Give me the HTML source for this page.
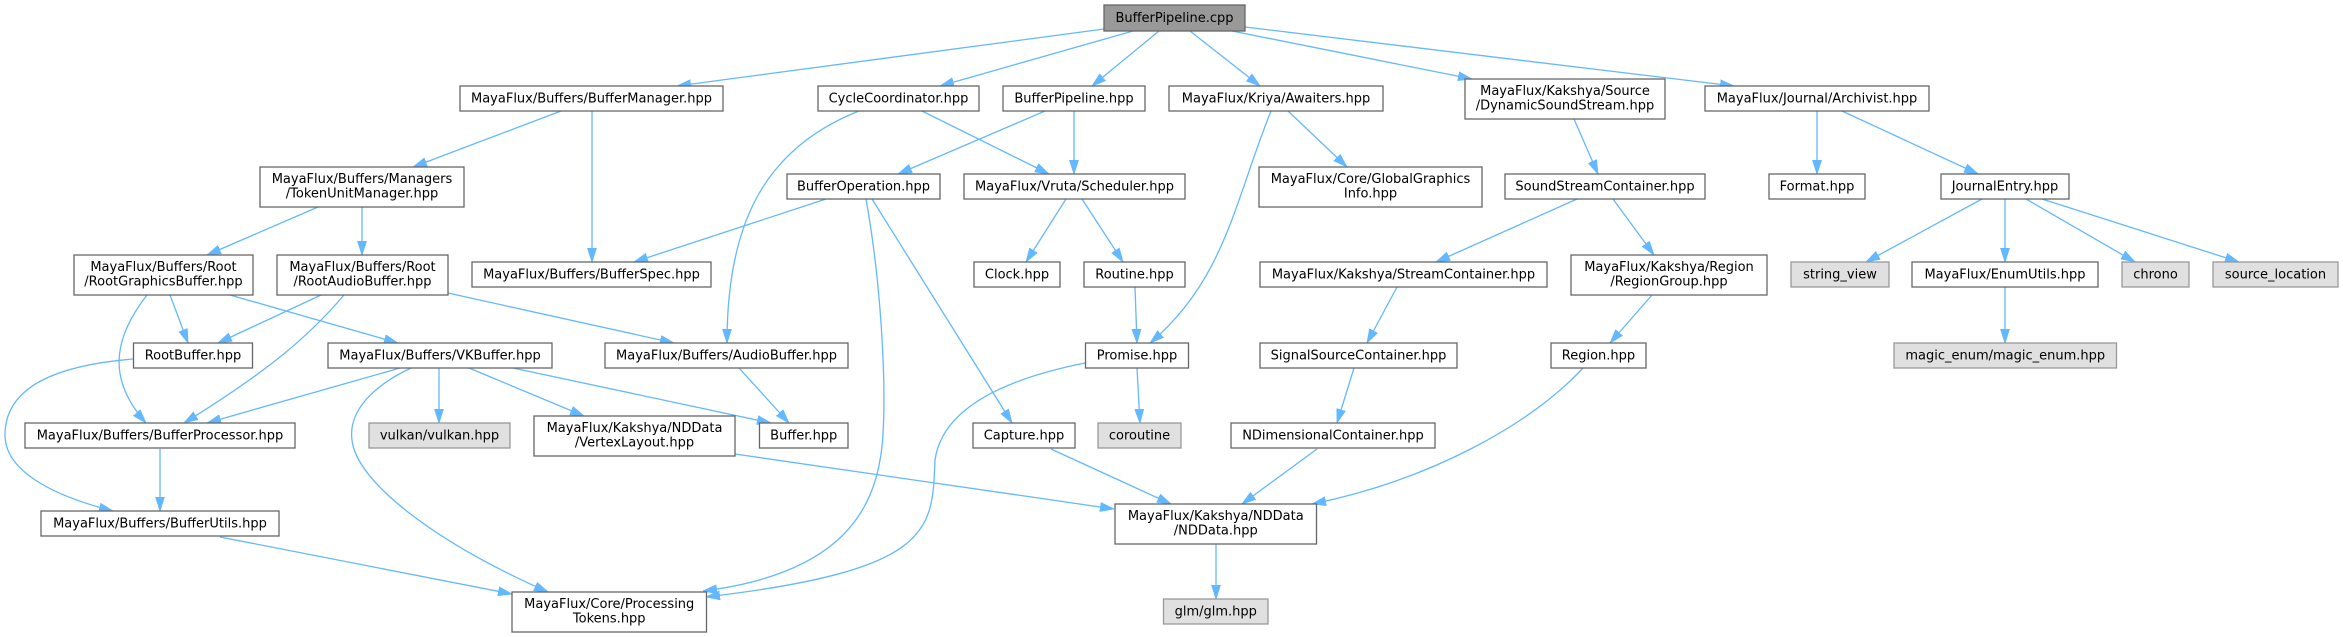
<!DOCTYPE html>
<html>
<head>
<meta charset="utf-8">
<style>
  html, body { margin:0; padding:0; background:#ffffff; }
  body { width:2343px; height:637px; overflow:hidden; }
  svg { display:block; }
  text { font-family: "DejaVu Sans", "Liberation Sans", sans-serif; font-size:13px; fill:#000; text-anchor:middle; }
  .n { fill:#ffffff; stroke:#666666; stroke-width:1.3; }
  .g { fill:#e0e0e0; stroke:#999999; stroke-width:1.3; }
  .r { fill:#999999; stroke:#666666; stroke-width:1.3; }
  .e { fill:none; stroke:#63b8ff; stroke-width:1.3; marker-end:url(#a); }
</style>
</head>
<body>
<svg width="2343" height="637" viewBox="0 0 2343 637" xmlns="http://www.w3.org/2000/svg">
<defs>
  <marker id="a" markerUnits="userSpaceOnUse" markerWidth="14" markerHeight="10" refX="14" refY="5" orient="auto" viewBox="0 0 14 10">
    <path d="M0,0.5 L14,5 L0,9.5z" fill="#63b8ff" stroke="#63b8ff" stroke-width="0.8"/>
  </marker>
</defs>

<!-- edges -->
<path class="e" d="M1104,29 L677,86"/>
<path class="e" d="M1133,31 L940,86"/>
<path class="e" d="M1159,31 L1092,86"/>
<path class="e" d="M1190,31 L1260,86"/>
<path class="e" d="M1232,31 L1472,79"/>
<path class="e" d="M1245,27 L1734,86"/>
<path class="e" d="M561,111 L413,167"/>
<path class="e" d="M592,111 L592,262"/>
<path class="e" d="M318,207 L207,255"/>
<path class="e" d="M362,207 L362,255"/>
<path class="e" d="M170,295 L188,343"/>
<path class="e" d="M147,295 C108,345 112,385 146,423"/>
<path class="e" d="M230,295 L398,343"/>
<path class="e" d="M321,295 L218,343"/>
<path class="e" d="M344,295 C310,335 270,370 184,423"/>
<path class="e" d="M448,293 L674,343"/>
<path class="e" d="M922,111 L1049,174"/>
<path class="e" d="M859,111 C760,150 727,230 727,343"/>
<path class="e" d="M1045,111 L898,174"/>
<path class="e" d="M1074,111 L1074,174"/>
<path class="e" d="M826,199 L634,262"/>
<path class="e" d="M866,199 C884,300 888,420 880,460 C870,520 830,575 703,591"/>
<path class="e" d="M872,199 L1012,423"/>
<path class="e" d="M1066,199 L1026,262"/>
<path class="e" d="M1082,199 L1123,262"/>
<path class="e" d="M1135,287 L1137,343"/>
<path class="e" d="M1288,111 L1347,167"/>
<path class="e" d="M1271,111 C1235,200 1225,280 1150,343"/>
<path class="e" d="M1137,368 L1140,423"/>
<path class="e" d="M1085,363 C1000,380 942,410 935,460 C932,530 935,570 706,597"/>
<path class="e" d="M400,368 L207,423"/>
<path class="e" d="M439,368 L439,423"/>
<path class="e" d="M469,368 L584,416"/>
<path class="e" d="M513,368 L771,423"/>
<path class="e" d="M411,368 C375,385 348,410 352,440 C356,480 430,540 548,592"/>
<path class="e" d="M739,368 L789,423"/>
<path class="e" d="M133,359 C60,365 5,385 5,435 C5,470 50,495 113,511"/>
<path class="e" d="M160,449 L160,511"/>
<path class="e" d="M220,537 L512,594"/>
<path class="e" d="M735,454 L1114,509"/>
<path class="e" d="M1051,449 L1171,504"/>
<path class="e" d="M1317,449 L1242,504"/>
<path class="e" d="M1583,368 C1530,425 1430,480 1312,504"/>
<path class="e" d="M1216,544 L1216,599"/>
<path class="e" d="M1574,119 L1598,174"/>
<path class="e" d="M1577,199 L1436,262"/>
<path class="e" d="M1613,199 L1654,255"/>
<path class="e" d="M1397,287 L1367,343"/>
<path class="e" d="M1354,368 L1337,423"/>
<path class="e" d="M1652,295 L1610,343"/>
<path class="e" d="M1817,111 L1817,174"/>
<path class="e" d="M1842,111 L1978,174"/>
<path class="e" d="M1982,199 L1866,262"/>
<path class="e" d="M2005,199 L2005,262"/>
<path class="e" d="M2026,199 L2135,262"/>
<path class="e" d="M2042,199 L2239,262"/>
<path class="e" d="M2005,287 L2005,343"/>

<!-- nodes -->
<rect class="r" x="1104" y="5" width="141" height="26"/><text x="1174.5" y="22">BufferPipeline.cpp</text>

<rect class="n" x="460" y="86" width="263" height="25"/><text x="591.5" y="102.5">MayaFlux/Buffers/BufferManager.hpp</text>
<rect class="n" x="818" y="86" width="161" height="25"/><text x="898.5" y="102.5">CycleCoordinator.hpp</text>
<rect class="n" x="1003" y="86" width="142" height="25"/><text x="1074" y="102.5">BufferPipeline.hpp</text>
<rect class="n" x="1169" y="86" width="214" height="25"/><text x="1276" y="102.5">MayaFlux/Kriya/Awaiters.hpp</text>
<rect class="n" x="1465" y="79" width="200" height="40"/><text x="1565" y="95">MayaFlux/Kakshya/Source</text><text x="1565" y="109.5">/DynamicSoundStream.hpp</text>
<rect class="n" x="1705" y="86" width="224" height="25"/><text x="1817" y="102.5">MayaFlux/Journal/Archivist.hpp</text>

<rect class="n" x="260" y="167" width="204" height="40"/><text x="362" y="183">MayaFlux/Buffers/Managers</text><text x="362" y="197.5">/TokenUnitManager.hpp</text>
<rect class="n" x="787" y="174" width="153" height="25"/><text x="863.5" y="190.5">BufferOperation.hpp</text>
<rect class="n" x="964" y="174" width="221" height="25"/><text x="1074.5" y="190.5">MayaFlux/Vruta/Scheduler.hpp</text>
<rect class="n" x="1259" y="167" width="223" height="40"/><text x="1370.5" y="183">MayaFlux/Core/GlobalGraphics</text><text x="1370.5" y="197.5">Info.hpp</text>
<rect class="n" x="1505" y="174" width="200" height="25"/><text x="1605" y="190.5">SoundStreamContainer.hpp</text>
<rect class="n" x="1769" y="174" width="96" height="25"/><text x="1817" y="190.5">Format.hpp</text>
<rect class="n" x="1941" y="174" width="128" height="25"/><text x="2005" y="190.5">JournalEntry.hpp</text>

<rect class="n" x="74" y="255" width="179" height="40"/><text x="163.5" y="271">MayaFlux/Buffers/Root</text><text x="163.5" y="285.5">/RootGraphicsBuffer.hpp</text>
<rect class="n" x="277" y="255" width="171" height="40"/><text x="362.5" y="271">MayaFlux/Buffers/Root</text><text x="362.5" y="285.5">/RootAudioBuffer.hpp</text>
<rect class="n" x="472" y="262" width="239" height="25"/><text x="591.5" y="278.5">MayaFlux/Buffers/BufferSpec.hpp</text>
<rect class="n" x="974" y="262" width="86" height="25"/><text x="1017" y="278.5">Clock.hpp</text>
<rect class="n" x="1084" y="262" width="101" height="25"/><text x="1134.5" y="278.5">Routine.hpp</text>
<rect class="n" x="1260" y="262" width="287" height="25"/><text x="1403.5" y="278.5">MayaFlux/Kakshya/StreamContainer.hpp</text>
<rect class="n" x="1571" y="255" width="196" height="40"/><text x="1669" y="271">MayaFlux/Kakshya/Region</text><text x="1669" y="285.5">/RegionGroup.hpp</text>
<rect class="g" x="1791" y="262" width="98" height="25"/><text x="1840" y="278.5">string_view</text>
<rect class="n" x="1912" y="262" width="186" height="25"/><text x="2005" y="278.5">MayaFlux/EnumUtils.hpp</text>
<rect class="g" x="2122" y="262" width="67" height="25"/><text x="2155.5" y="278.5">chrono</text>
<rect class="g" x="2213" y="262" width="125" height="25"/><text x="2275.5" y="278.5">source_location</text>

<rect class="n" x="133.5" y="343" width="119" height="25"/><text x="193" y="359.5">RootBuffer.hpp</text>
<rect class="n" x="328" y="343" width="224" height="25"/><text x="440" y="359.5">MayaFlux/Buffers/VKBuffer.hpp</text>
<rect class="n" x="605" y="343" width="243" height="25"/><text x="726.5" y="359.5">MayaFlux/Buffers/AudioBuffer.hpp</text>
<rect class="n" x="1085.5" y="343" width="103" height="25"/><text x="1137" y="359.5">Promise.hpp</text>
<rect class="n" x="1260" y="343" width="197" height="25"/><text x="1358.5" y="359.5">SignalSourceContainer.hpp</text>
<rect class="n" x="1551" y="343" width="95" height="25"/><text x="1598.5" y="359.5">Region.hpp</text>
<rect class="g" x="1894" y="343" width="222.5" height="25"/><text x="2005.25" y="359.5">magic_enum/magic_enum.hpp</text>

<rect class="n" x="25" y="423" width="270" height="25"/><text x="160" y="439.5">MayaFlux/Buffers/BufferProcessor.hpp</text>
<rect class="g" x="369" y="423" width="141" height="25"/><text x="439.5" y="439.5">vulkan/vulkan.hpp</text>
<rect class="n" x="534" y="416" width="201" height="40"/><text x="634.5" y="432">MayaFlux/Kakshya/NDData</text><text x="634.5" y="446.5">/VertexLayout.hpp</text>
<rect class="n" x="759.5" y="423" width="88.5" height="25"/><text x="803.75" y="439.5">Buffer.hpp</text>
<rect class="n" x="973" y="423" width="102" height="25"/><text x="1024" y="439.5">Capture.hpp</text>
<rect class="g" x="1098" y="423" width="83" height="25"/><text x="1139.5" y="439.5">coroutine</text>
<rect class="n" x="1231" y="423" width="204" height="25"/><text x="1333" y="439.5">NDimensionalContainer.hpp</text>

<rect class="n" x="41" y="511" width="238" height="25"/><text x="160" y="527.5">MayaFlux/Buffers/BufferUtils.hpp</text>
<rect class="n" x="1115" y="504" width="201.5" height="40"/><text x="1215.75" y="520">MayaFlux/Kakshya/NDData</text><text x="1215.75" y="534.5">/NDData.hpp</text>

<rect class="n" x="512" y="592" width="194.5" height="40"/><text x="609.25" y="608">MayaFlux/Core/Processing</text><text x="609.25" y="622.5">Tokens.hpp</text>
<rect class="g" x="1163.5" y="599" width="104.5" height="25"/><text x="1215.75" y="615.5">glm/glm.hpp</text>
</svg>
</body>
</html>
